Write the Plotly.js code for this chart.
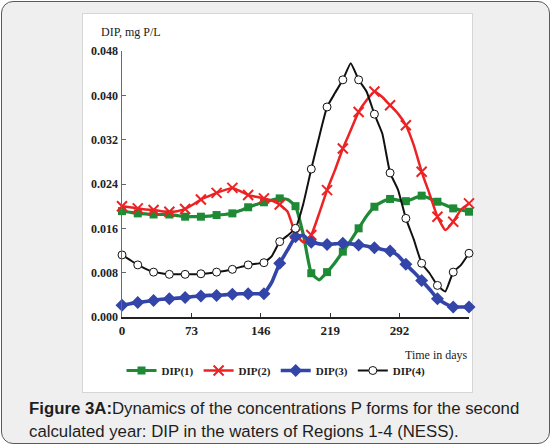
<!DOCTYPE html>
<html>
<head>
<meta charset="utf-8">
<script src="https://cdn.plot.ly/plotly-3.0.1.min.js"></script>
<style>
  html, body { margin: 0; padding: 0; background: #ffffff; }
  #frame { position: absolute; left: 1px; top: 1px; width: 547px; height: 441px;
           border: 1.5px solid #5a5a5a; border-radius: 12px; background: #efefef; }
  #panel { position: absolute; left: 82px; top: 13px; width: 389px; height: 378px;
           background: #ffffff; border: 1px solid #d6d6d6; }
  #chart { position: absolute; left: 0; top: 0; width: 552px; height: 446px; }
</style>
</head>
<body>
<div id="frame"></div>
<div id="panel"></div>
<div id="chart"></div>
<script>
// ---- data ----
const days = [0, 8.3, 16.6, 24.9, 33.2, 41.5, 49.8, 58.1, 66.4, 74.7, 83, 91.3, 99.5, 107.8, 116.1,
  124.4, 132.7, 141, 149.3, 157.6, 165.9, 174.2, 182.5, 190.8, 199.1, 207.4, 215.7, 224, 232.3,
  240.6, 248.9, 257.2, 265.5, 273.8, 282, 290.3, 298.6, 306.9, 315.2, 323.5, 331.8, 340.1, 348.4,
  356.7, 365];

const dip1 = [0.0191, 0.0189, 0.0187, 0.0186, 0.0185, 0.0185, 0.0185, 0.0183, 0.0181, 0.0181,
  0.0181, 0.0182, 0.0184, 0.0185, 0.0187, 0.0192, 0.0198, 0.0203, 0.0207, 0.0211, 0.0214, 0.0212,
  0.0200, 0.0148, 0.0079, 0.0067, 0.0081, 0.0098, 0.0118, 0.0138, 0.0160, 0.0182, 0.0199, 0.0208,
  0.0213, 0.0211, 0.0209, 0.0214, 0.0219, 0.0214, 0.0208, 0.0202, 0.0196, 0.0193, 0.0190];

const dip2 = [0.0200, 0.0198, 0.0196, 0.0194, 0.0193, 0.0191, 0.0190, 0.0191, 0.0195, 0.0203,
  0.0212, 0.0218, 0.0224, 0.0229, 0.0233, 0.0227, 0.0220, 0.0217, 0.0214, 0.0210, 0.0203, 0.0190,
  0.0150, 0.0135, 0.0148, 0.0187, 0.0229, 0.0265, 0.0304, 0.0337, 0.0370, 0.0391, 0.0407, 0.0397,
  0.0382, 0.0367, 0.0346, 0.0310, 0.0262, 0.0222, 0.0181, 0.0157, 0.0172, 0.0194, 0.0205];

const dip3 = [0.0021, 0.0024, 0.0026, 0.0028, 0.0030, 0.0032, 0.0033, 0.0034, 0.0035, 0.0037,
  0.0038, 0.0039, 0.0039, 0.0040, 0.0041, 0.0042, 0.0042, 0.0042, 0.0042, 0.0063, 0.0097, 0.0121,
  0.0145, 0.0147, 0.0135, 0.0132, 0.0131, 0.0132, 0.0133, 0.0132, 0.0130, 0.0128, 0.0125, 0.0122,
  0.0119, 0.0111, 0.0095, 0.0081, 0.0066, 0.0050, 0.0033, 0.0024, 0.0018, 0.0018, 0.0018];

const dip4 = [0.0112, 0.0103, 0.0094, 0.0087, 0.0081, 0.0079, 0.0077, 0.0077, 0.0077, 0.0077,
  0.0078, 0.0079, 0.0081, 0.0083, 0.0086, 0.0090, 0.0094, 0.0096, 0.0098, 0.0110, 0.0136, 0.0147,
  0.0160, 0.0205, 0.0267, 0.0325, 0.0379, 0.0404, 0.0428, 0.0458, 0.0428, 0.0407, 0.0366, 0.0331,
  0.0260, 0.0230, 0.0178, 0.0140, 0.0097, 0.0079, 0.0057, 0.0046, 0.0081, 0.0094, 0.0115];

const seriesNames = ['DIP(1)', 'DIP(2)', 'DIP(3)', 'DIP(4)'];
const xTicks = [0, 73, 146, 219, 292];
const yTicks = [0, 0.008, 0.016, 0.024, 0.032, 0.040, 0.048];

// ---- layout helpers (pixel positions -> paper fractions) ----
const L = 122, R = 83, T = 51, B = 129, W = 552 - L - R, H = 446 - T - B;
const px = v => (v - L) / W;
const py = v => (T + H - v) / H;
// markers only on every second point
const every2 = c => days.map((d, i) => (i % 2 === 0 ? c : 'rgba(0,0,0,0)'));

const GREEN = '#1f8a35', RED = '#ec2224', BLUE = '#3345a8', BLACK = '#111111';
const serif = 'Liberation Serif, Times New Roman, serif';

const traces = [
  { x: days, y: dip1, name: seriesNames[0], mode: 'lines+markers', cliponaxis: false,
    line: { color: GREEN, width: 3.2, shape: 'spline', smoothing: 0.4 },
    marker: { symbol: 'square', size: 8, color: every2(GREEN), line: { width: 0 } } },
  { x: days, y: dip2, name: seriesNames[1], mode: 'lines+markers', cliponaxis: false,
    line: { color: RED, width: 2.5, shape: 'spline', smoothing: 0.4 },
    marker: { symbol: 'x-thin', size: 10, color: every2(RED), line: { width: 2, color: every2(RED) } } },
  { x: days, y: dip3, name: seriesNames[2], mode: 'lines+markers', cliponaxis: false,
    line: { color: BLUE, width: 3.6, shape: 'spline', smoothing: 0.4 },
    marker: { symbol: 'diamond', size: 10, color: every2(BLUE), line: { width: 0 } } },
  { x: days, y: dip4, name: seriesNames[3], mode: 'lines+markers', cliponaxis: false,
    line: { color: BLACK, width: 2, shape: 'spline', smoothing: 0.4 },
    marker: { symbol: 'circle', size: 8, color: every2('#ffffff'), line: { width: 1, color: every2(BLACK) } } }
];

const layout = {
  width: 552, height: 446,
  margin: { l: L, r: R, t: T, b: B, pad: 0 },
  paper_bgcolor: 'rgba(0,0,0,0)',
  plot_bgcolor: 'rgba(0,0,0,0)',
  showlegend: true,
  xaxis: {
    range: [0, 365], tickvals: xTicks, ticktext: xTicks.map(String),
    ticks: 'inside', ticklen: 4, tickwidth: 1, tickcolor: '#333',
    showline: true, linecolor: '#222', linewidth: 2, showgrid: false, zeroline: false,
    tickfont: { family: serif, size: 13, color: '#222', weight: 'bold' }
  },
  yaxis: {
    range: [0, 0.048], tickvals: yTicks, tickformat: '.3f',
    ticks: 'inside', ticklen: 4, tickwidth: 1, tickcolor: '#666',
    showline: true, linecolor: '#6a6a6a', linewidth: 1.5, showgrid: false, zeroline: false,
    tickfont: { family: serif, size: 12, color: '#222', weight: 'bold' }
  },
  legend: {
    orientation: 'h', x: px(276), xanchor: 'center', y: py(356), yanchor: 'top',
    bgcolor: 'rgba(0,0,0,0)', itemwidth: 30,
    font: { family: serif, size: 11, color: '#222', weight: 'bold' }
  },
  annotations: [
    { text: 'DIP, mg P/L', xref: 'paper', yref: 'paper', x: px(99), y: py(32),
      xanchor: 'left', yanchor: 'middle', showarrow: false,
      font: { family: serif, size: 12, color: '#222' } },
    { text: 'Time in days', xref: 'paper', yref: 'paper', x: px(403), y: py(355),
      xanchor: 'left', yanchor: 'middle', showarrow: false,
      font: { family: serif, size: 12, color: '#222' } },
    { text: '<b>Figure 3A:</b>Dynamics of the concentrations P forms for the second',
      xref: 'paper', yref: 'paper', x: px(27), y: py(409),
      xanchor: 'left', yanchor: 'middle', showarrow: false,
      font: { family: 'Liberation Sans, Arial, sans-serif', size: 16.8, color: '#1e1e1e' } },
    { text: 'calculated year: DIP in the waters of Regions 1-4 (NESS).',
      xref: 'paper', yref: 'paper', x: px(27), y: py(431),
      xanchor: 'left', yanchor: 'middle', showarrow: false,
      font: { family: 'Liberation Sans, Arial, sans-serif', size: 16.8, color: '#1e1e1e' } }
  ]
};

Plotly.newPlot('chart', traces, layout, { displayModeBar: false, staticPlot: true });
</script>
</body>
</html>
